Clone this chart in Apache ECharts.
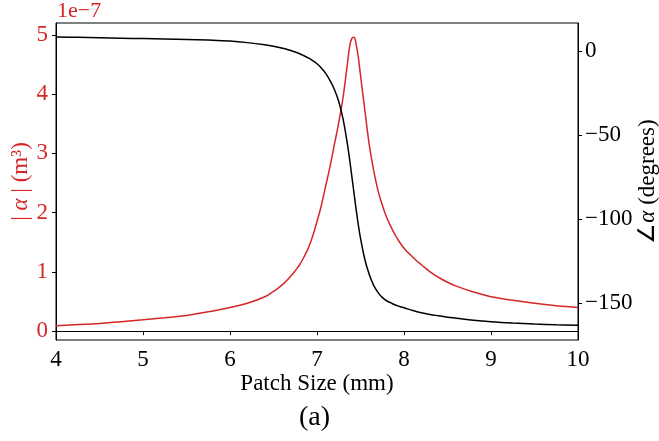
<!DOCTYPE html>
<html>
<head>
<meta charset="utf-8">
<script src="https://cdn.jsdelivr.net/npm/echarts@6/dist/echarts.min.js"></script>
<style>
  html, body { margin: 0; padding: 0; background: #ffffff; }
  #chart { width: 659px; height: 441px; }
</style>
</head>
<body>
<div id="chart"></div>
<script>
// Patch size sweep (mm)
const patchSize = [4.0, 4.25, 4.5, 4.75, 5.0, 5.25, 5.5, 5.75, 6.0, 6.2, 6.4, 6.5, 6.55, 6.6, 6.65, 6.7, 6.75, 6.8, 6.85, 6.9, 6.95, 7.0, 7.05, 7.1, 7.15, 7.2, 7.25, 7.3, 7.35, 7.375, 7.4, 7.425, 7.45, 7.475, 7.5, 7.55, 7.6, 7.65, 7.7, 7.75, 7.8, 7.85, 7.9, 7.95, 8.0, 8.05, 8.1, 8.15, 8.2, 8.3, 8.4, 8.5, 8.6, 8.8, 9.0, 9.25, 9.5, 9.75, 10.0];
// Polarizability magnitude |alpha|, in units of 1e-7 m^3
const magnitude = [0.09, 0.11, 0.13, 0.16, 0.19, 0.225, 0.265, 0.325, 0.40, 0.47, 0.58, 0.67, 0.72, 0.78, 0.85, 0.93, 1.02, 1.12, 1.25, 1.40, 1.60, 1.85, 2.12, 2.45, 2.78, 3.15, 3.52, 3.95, 4.52, 4.80, 4.94, 4.96, 4.84, 4.62, 4.32, 3.73, 3.15, 2.72, 2.38, 2.13, 1.92, 1.76, 1.62, 1.50, 1.40, 1.32, 1.25, 1.18, 1.12, 1.00, 0.905, 0.825, 0.76, 0.66, 0.58, 0.52, 0.47, 0.43, 0.40];
// Polarizability phase (degrees)
const phase = [8.5, 8.25, 8.0, 7.75, 7.5, 7.25, 7.0, 6.6, 6.0, 5.1, 3.8, 2.9, 2.4, 1.8, 1.15, 0.4, -0.5, -1.5, -2.7, -4.0, -5.6, -7.5, -10.0, -13.2, -17.5, -22.8, -30.0, -40.5, -55.5, -64.5, -74.5, -84.5, -94.5, -103.5, -111.5, -124.2, -133.0, -139.5, -143.8, -146.8, -148.8, -150.1, -151.3, -152.2, -153.0, -153.8, -154.6, -155.3, -155.9, -157.0, -157.8, -158.6, -159.2, -160.4, -161.3, -162.1, -162.7, -163.1, -163.4];

const magTicks = [0, 1, 2, 3, 4, 5];
const phaseTicks = [0, -50, -100, -150];

const RED = '#d62728';
const FONT = "'Liberation Serif', 'Times New Roman', serif";
const FS = 23;

const chart = echarts.init(document.getElementById('chart'), null, { renderer: 'canvas' });

const magData = patchSize.map((x, i) => [x, magnitude[i]]);
const phaseData = patchSize.map((x, i) => [x, phase[i]]);

chart.setOption({
  animation: false,
  backgroundColor: '#ffffff',
  textStyle: { fontFamily: FONT },
  grid: {
    left: 56, right: 81, top: 23, bottom: 101,
    outerBoundsMode: 'none',
    show: true, borderColor: '#000', borderWidth: 1, backgroundColor: 'transparent'
  },
  graphic: [
    {
      type: 'text', left: 57, top: 0,
      style: { text: '1e\u22127', fill: RED, font: '22px ' + FONT }
    },
    {
      type: 'text', left: 299, top: 404,
      style: { text: '(a)', fill: '#000', font: '28px ' + FONT }
    }
  ],
  xAxis: {
    type: 'value', min: 4, max: 10, interval: 1,
    name: 'Patch Size (mm)', nameLocation: 'middle', nameGap: 32, nameMoveOverlap: false,
    nameTextStyle: { color: '#000', fontSize: FS, fontFamily: FONT },
    axisLine: { show: true, lineStyle: { color: '#000', width: 1 } },
    axisTick: { show: true, inside: false, length: 4, lineStyle: { color: '#000' } },
    axisLabel: { color: '#000', fontSize: FS, fontFamily: FONT, margin: 8 },
    splitLine: { show: false }
  },
  yAxis: [
    {
      type: 'value', position: 'left', min: -0.15, max: 5.2,
      name: '{t|| }{i|\u03b1}{t| | (m\u00b3)}',
      nameLocation: 'middle', nameRotate: 90, nameGap: 24, nameMoveOverlap: false,
      nameTextStyle: {
        color: RED, fontFamily: FONT,
        rich: {
          t: { fontSize: FS, color: RED, fontFamily: FONT },
          i: { fontSize: FS, color: RED, fontFamily: FONT, fontStyle: 'italic' }
        }
      },
      axisLine: { show: true, onZero: false, lineStyle: { color: '#000', width: 1 } },
      axisTick: { show: true, inside: false, length: 4, customValues: magTicks, lineStyle: { color: '#000' } },
      axisLabel: { color: RED, fontSize: FS, fontFamily: FONT, margin: 8, customValues: magTicks },
      splitLine: { show: false }
    },
    {
      type: 'value', position: 'right', min: -172.2, max: 16.8,
      name: '{t|\u2220}{i|\u03b1}{t| (degrees)}',
      nameLocation: 'middle', nameRotate: 90, nameGap: 58, nameMoveOverlap: false,
      nameTextStyle: {
        color: '#000', fontFamily: FONT,
        rich: {
          t: { fontSize: FS, color: '#000', fontFamily: FONT },
          i: { fontSize: FS, color: '#000', fontFamily: FONT, fontStyle: 'italic' }
        }
      },
      axisLine: { show: true, onZero: false, lineStyle: { color: '#000', width: 1 } },
      axisTick: { show: true, inside: false, length: 4, customValues: phaseTicks, lineStyle: { color: '#000' } },
      axisLabel: {
        color: '#000', fontSize: FS, fontFamily: FONT, margin: 7, customValues: phaseTicks,
        formatter: v => (v < 0 ? '\u2212' + Math.abs(v) : String(v))
      },
      splitLine: { show: false }
    }
  ],
  series: [
    {
      name: 'magnitude', type: 'line', yAxisIndex: 0, data: magData,
      showSymbol: false, smooth: 0.4,
      lineStyle: { color: RED, width: 1.5 }, itemStyle: { color: RED }, z: 2
    },
    {
      name: 'phase', type: 'line', yAxisIndex: 1, data: phaseData,
      showSymbol: false, smooth: 0.4,
      lineStyle: { color: '#000', width: 1.5 }, itemStyle: { color: '#000' }, z: 3
    }
  ]
});
</script>
</body>
</html>
